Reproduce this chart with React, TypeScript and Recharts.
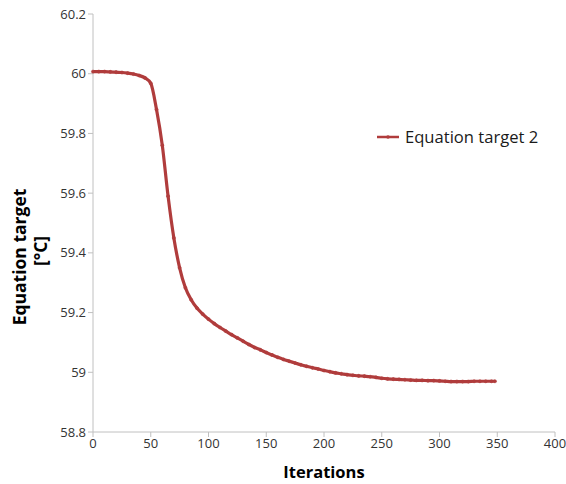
import { LineChart, Line, XAxis, YAxis, Legend } from "recharts";

const iterations = [
  0, 5, 10, 15, 20, 25, 30, 35, 40, 45, 50, 55, 60, 65, 70, 75, 80, 85, 90, 95,
  100, 105, 110, 115, 120, 125, 130, 135, 140, 145, 150, 155, 160, 165, 170,
  175, 180, 185, 190, 195, 200, 205, 210, 215, 220, 225, 230, 235, 240, 245,
  250, 255, 260, 265, 270, 275, 280, 285, 290, 295, 300, 305, 310, 315, 320,
  325, 330, 335, 340, 345, 348,
];

const target2 = [
  60.007, 60.007, 60.007, 60.006, 60.005, 60.004, 60.002, 59.999, 59.994,
  59.986, 59.968, 59.88, 59.76, 59.59, 59.45, 59.35, 59.283, 59.243, 59.215,
  59.195, 59.178, 59.163, 59.15, 59.138, 59.126, 59.115, 59.104, 59.093,
  59.083, 59.075, 59.066, 59.058, 59.05, 59.043, 59.037, 59.031, 59.025,
  59.02, 59.015, 59.011, 59.006, 59.002, 58.998, 58.995, 58.992, 58.99,
  58.988, 58.987, 58.985, 58.983, 58.98, 58.978, 58.977, 58.976, 58.975,
  58.974, 58.973, 58.973, 58.972, 58.972, 58.971, 58.97, 58.969, 58.969,
  58.969, 58.969, 58.97, 58.97, 58.97, 58.97, 58.97,
];

const xTicks = [0, 50, 100, 150, 200, 250, 300, 350, 400];
const yTicks = [58.8, 59, 59.2, 59.4, 59.6, 59.8, 60, 60.2];

const data = iterations.map((it, i) => ({ it, v: target2[i] }));

const RED = "#b03c3c";
const AXIS = "#c0c0c0";
const FONT = "'Open Sans', sans-serif";

// two-line rotated title, like the original
function YLabel({ viewBox }: any) {
  const cy = viewBox ? viewBox.y + viewBox.height / 2 : 223;
  return (
    <g>
      <text
        x={0}
        y={0}
        transform={`translate(26, ${cy + 34}) rotate(-90)`}
        textAnchor="middle"
        fontSize={17.5}
        fontWeight="bold"
        fill="#000"
        fontFamily={FONT}
      >
        Equation target
      </text>
      <text
        x={0}
        y={0}
        transform={`translate(47, ${cy + 28}) rotate(-90)`}
        textAnchor="middle"
        fontSize={17.5}
        fontWeight="bold"
        fill="#000"
        fontFamily={FONT}
      >
        [°C]
      </text>
    </g>
  );
}

function LegendBox() {
  return (
    <div style={{ display: "flex", alignItems: "center", fontFamily: FONT }}>
      <svg width={22} height={10}>
        <line x1={0} y1={5} x2={22} y2={5} stroke={RED} strokeWidth={2.5} />
        <circle cx={11} cy={5} r={1.8} fill={RED} />
      </svg>
      <span style={{ marginLeft: 6, fontSize: 16.6, color: "#1a1a1a" }}>
        Equation target 2
      </span>
    </div>
  );
}

export default function App() {
  return (
    <div style={{ position: "absolute", left: 0, top: 0 }}>
      <LineChart
        width={566}
        height={484}
        data={data}
        margin={{ top: 14, right: 11, left: 0, bottom: 0 }}
      >
        <XAxis
          dataKey="it"
          type="number"
          domain={[0, 400]}
          ticks={xTicks}
          height={52}
          stroke={AXIS}
          tickSize={5}
          tick={{ fill: "#333", fontSize: 13, fontFamily: FONT }}
          label={{
            value: "Iterations",
            position: "insideBottom",
            offset: 6,
            fill: "#000",
            fontSize: 16.5,
            fontWeight: "bold",
            fontFamily: FONT,
          }}
        />
        <YAxis
          type="number"
          domain={[58.8, 60.2]}
          ticks={yTicks}
          width={93}
          stroke={AXIS}
          tickSize={5}
          tickFormatter={(v: number) => String(Number(v.toFixed(1)))}
          tick={{ fill: "#333", fontSize: 13, fontFamily: FONT }}
          label={<YLabel />}
        />
        <Legend
          layout="horizontal"
          verticalAlign="middle"
          align="center"
          content={<LegendBox />}
          wrapperStyle={{ top: 125, left: 377, width: 185 }}
        />
        <Line
          dataKey="v"
          type="monotone"
          stroke={RED}
          strokeWidth={3.2}
          dot={{ r: 1.6, fill: RED, stroke: RED, strokeWidth: 0.5 }}
          isAnimationActive={false}
        />
      </LineChart>
    </div>
  );
}
